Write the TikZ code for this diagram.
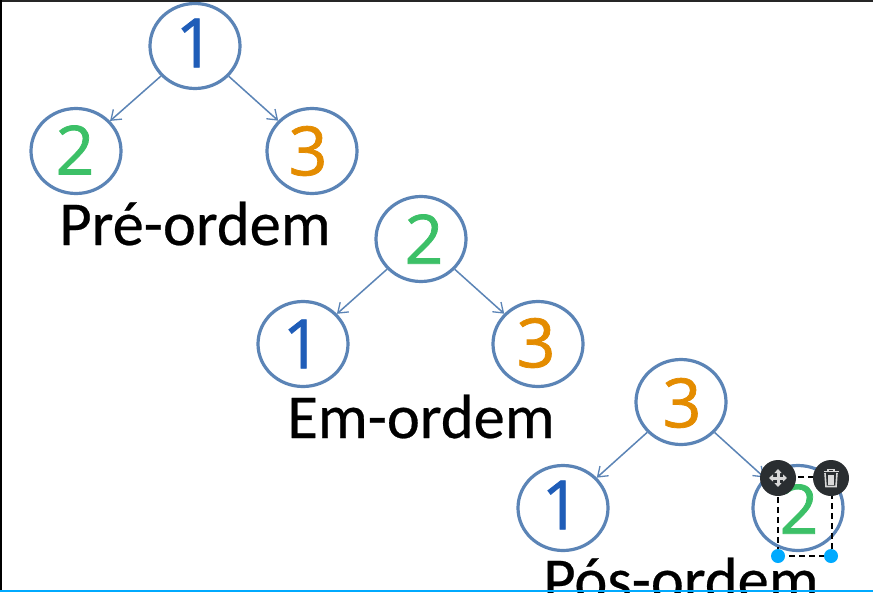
\documentclass[tikz,border=0pt]{standalone}
\usepackage{fontspec}
\setmainfont[FakeBold=0.35]{Carlito}
\newfontfamily\captionfont[FakeBold=0.4]{Carlito}
\newfontfamily\digitfont[FakeBold=1.1]{Open Sans}
\usetikzlibrary{shapes.geometric,arrows.meta}
\definecolor{ringblue}{HTML}{5B84B6}
\definecolor{dblue}{HTML}{1F5DB8}
\definecolor{dgreen}{HTML}{3CC067}
\definecolor{dorange}{HTML}{E48C00}
\definecolor{handle}{HTML}{00AAFF}
\definecolor{tooldark}{HTML}{2A2E31}
\definecolor{iconlight}{HTML}{D8D8D8}
\tikzset{
  ring/.style={draw=ringblue,line width=3.2pt,ellipse,inner sep=0pt,minimum width=90pt,minimum height=85pt,fill=white},
  edge/.style={draw=ringblue,line width=1.5pt,-{Straight Barb[length=9pt,width=13pt,line width=1.3pt]},shorten >=0pt},
  digit/.style={font=\digitfont\fontsize{68}{68}\selectfont,inner sep=0pt},
  caption/.style={font=\captionfont\fontsize{62.5}{62.5}\selectfont,inner sep=0pt,anchor=base,black},
  handledot/.style={circle,fill=handle,minimum size=14pt,inner sep=0pt},
  toolbtn/.style={circle,fill=tooldark,minimum size=36pt,inner sep=0pt}
}
\begin{document}
\begin{tikzpicture}[x=1pt,y=-1pt]
\useasboundingbox (0,0) rectangle (873,592);
\begin{scope}
\clip (0,0) rectangle (873,592);
\fill[white] (0,0) rectangle (873,592);
% tree 1
\node[ring] (a1) at (195,46) {};
\node[ring] (a2) at (76,151) {};
\node[ring] (a3) at (312,151) {};
\draw[edge] (a1) -- (a2);
\draw[edge] (a1) -- (a3);
\node[digit,dblue] (da1) at (195,43) {1};
\node[digit,dgreen] (da2) at (75,150) {2};
\node[digit,dorange] (da3) at (308,151) {3};
\node[caption] (ca) at (195,245) {Pré-ordem};
% tree 2
\node[ring] (b1) at (421,239) {};
\node[ring] (b2) at (303,344) {};
\node[ring] (b3) at (538,344) {};
\draw[edge] (b1) -- (b2);
\draw[edge] (b1) -- (b3);
\node[digit,dgreen] (db1) at (424,239) {2};
\node[digit,dblue] (db2) at (302,344) {1};
\node[digit,dorange] (db3) at (536,343) {3};
\node[caption] (cb) at (421,438) {Em-ordem};
% tree 3
\node[ring] (c1) at (681,402) {};
\node[ring] (c2) at (563,508) {};
\node[ring] (c3) at (798,508) {};
\draw[edge] (c1) -- (c2);
\draw[edge] (c1) -- (c3);
\node[digit,dorange] (dc1) at (682,403) {3};
\node[digit,dblue] (dc2) at (561,505) {1};
\node[digit,dgreen] (dc3) at (799,509) {2};
\node[caption] (cc) at (681,601) {Pós-ordem};
% selection overlay
\draw[black,line width=2pt,dash pattern=on 6pt off 4pt] (778,477) rectangle (832,556);
\node[handledot] (h1) at (778,556) {};
\node[handledot] (h2) at (831,556) {};
\node[toolbtn] (t1) at (778,478) {};
\node[toolbtn] (t2) at (831,478) {};
% move icon
\draw[iconlight,line width=3pt,{Triangle[length=4pt,width=7pt]}-{Triangle[length=4pt,width=7pt]}] (769,478) -- (787,478);
\draw[iconlight,line width=3pt,{Triangle[length=4pt,width=7pt]}-{Triangle[length=4pt,width=7pt]}] (778,469) -- (778,487);
% trash icon
\draw[iconlight,line width=1.6pt] (823.5,471.5) -- (838.5,471.5);
\draw[iconlight,line width=1.4pt] (828,471.5) -- (828,469.5) -- (834,469.5) -- (834,471.5);
\draw[iconlight,line width=1.6pt] (825,473) -- (826,486.5) -- (836,486.5) -- (837,473);
\draw[iconlight,line width=1.2pt] (829,475) -- (829,484.5) (831,475) -- (831,484.5) (833,475) -- (833,484.5);
% window edges
\fill[black!85] (0,0) rectangle (873,2);
\fill[black] (0,0) rectangle (2,592);
\fill[handle] (0,590) rectangle (873,592);
\end{scope}
\end{tikzpicture}
\end{document}
